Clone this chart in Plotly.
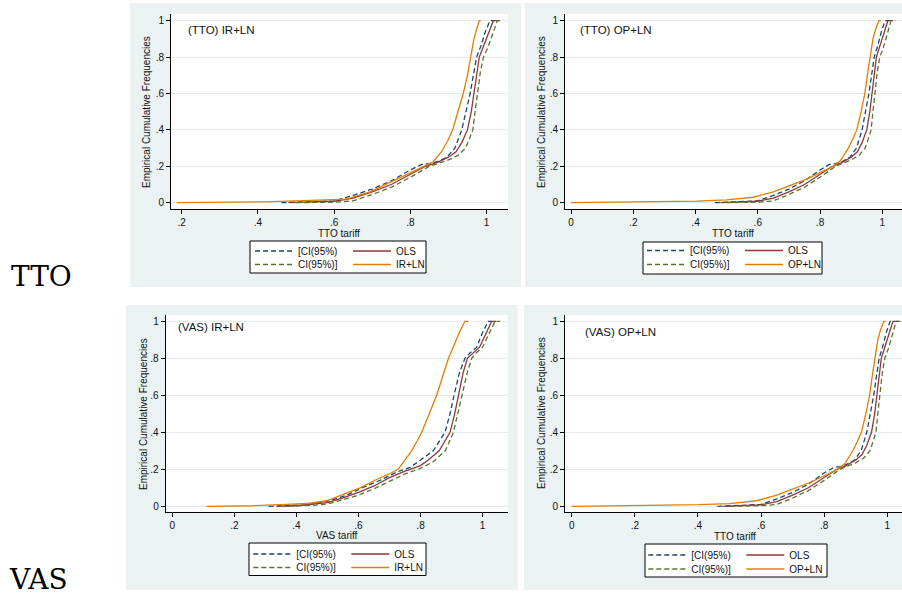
import plotly.graph_objects as go

W, H = 902, 596

# ---------------- data ----------------
# TTO tariff – lower CI, OLS, upper CI (shared by TTO panels)
tto_lo_x = [0.462, 0.55, 0.60, 0.65, 0.70, 0.75, 0.80, 0.83, 0.85, 0.87, 0.896, 0.917, 0.935, 0.957, 0.965, 0.974, 0.985, 0.997, 1.009, 1.02]
tto_lo_y = [0, 0.004, 0.01, 0.04, 0.075, 0.12, 0.18, 0.21, 0.215, 0.225, 0.25, 0.30, 0.40, 0.60, 0.70, 0.80, 0.86, 0.94, 1.0, 1.0]
tto_ols_x = [0.48, 0.55, 0.60, 0.65, 0.70, 0.75, 0.80, 0.84, 0.87, 0.90, 0.92, 0.935, 0.950, 0.960, 0.967, 0.975, 0.981, 0.992, 1.005, 1.018, 1.035]
tto_ols_y = [0, 0.003, 0.008, 0.025, 0.06, 0.10, 0.155, 0.20, 0.22, 0.25, 0.28, 0.33, 0.40, 0.50, 0.60, 0.72, 0.80, 0.86, 0.93, 1.0, 1.0]
tto_hi_x = [0.50, 0.60, 0.65, 0.70, 0.75, 0.80, 0.85, 0.88, 0.90, 0.925, 0.945, 0.955, 0.964, 0.970, 0.976, 0.984, 0.992, 1.003, 1.015, 1.028, 1.042]
tto_hi_y = [0, 0.003, 0.01, 0.045, 0.085, 0.14, 0.20, 0.22, 0.235, 0.26, 0.30, 0.35, 0.40, 0.50, 0.60, 0.72, 0.80, 0.85, 0.92, 1.0, 1.0]
# TTO IR+LN
tto_irln_x = [0.187, 0.30, 0.414, 0.50, 0.589, 0.633, 0.694, 0.746, 0.799, 0.834, 0.86, 0.882, 0.898, 0.911, 0.925, 0.939, 0.950, 0.959, 0.967, 0.975, 0.981, 0.985]
tto_irln_y = [0, 0.002, 0.005, 0.01, 0.015, 0.02, 0.06, 0.11, 0.165, 0.198, 0.225, 0.28, 0.34, 0.40, 0.50, 0.60, 0.70, 0.80, 0.90, 0.96, 1.0, 1.0]
# TTO OP+LN
tto_opln_x = [0.0, 0.1, 0.2, 0.3, 0.404, 0.5, 0.586, 0.65, 0.703, 0.757, 0.80, 0.843, 0.865, 0.891, 0.905, 0.918, 0.932, 0.944, 0.952, 0.960, 0.970, 0.978, 0.989, 0.995]
tto_opln_y = [0, 0.002, 0.004, 0.006, 0.009, 0.015, 0.03, 0.06, 0.095, 0.13, 0.165, 0.20, 0.23, 0.30, 0.35, 0.40, 0.50, 0.60, 0.70, 0.80, 0.90, 0.95, 1.0, 1.0]

# VAS tariff – lower CI, OLS, upper CI
vas_lo_x = [0.311, 0.368, 0.433, 0.497, 0.562, 0.605, 0.669, 0.723, 0.766, 0.80, 0.841, 0.879, 0.895, 0.908, 0.925, 0.943, 0.96, 0.981, 1.0, 1.018, 1.03]
vas_lo_y = [0, 0.003, 0.008, 0.025, 0.06, 0.095, 0.14, 0.185, 0.21, 0.25, 0.30, 0.40, 0.50, 0.60, 0.72, 0.80, 0.83, 0.86, 0.94, 1.0, 1.0]
vas_ols_x = [0.336, 0.40, 0.50, 0.55, 0.60, 0.65, 0.70, 0.75, 0.80, 0.825, 0.86, 0.895, 0.91, 0.922, 0.937, 0.951, 0.97, 0.99, 1.01, 1.029, 1.045]
vas_ols_y = [0, 0.003, 0.02, 0.045, 0.075, 0.11, 0.155, 0.19, 0.22, 0.25, 0.30, 0.40, 0.50, 0.60, 0.72, 0.80, 0.83, 0.86, 0.93, 1.0, 1.0]
vas_hi_x = [0.35, 0.45, 0.50, 0.55, 0.60, 0.65, 0.70, 0.75, 0.80, 0.84, 0.88, 0.906, 0.92, 0.933, 0.95, 0.965, 0.98, 1.0, 1.02, 1.04, 1.056]
vas_hi_y = [0, 0.005, 0.012, 0.035, 0.06, 0.095, 0.135, 0.175, 0.205, 0.24, 0.30, 0.40, 0.50, 0.60, 0.72, 0.80, 0.83, 0.86, 0.93, 1.0, 1.0]
# VAS IR+LN
vas_irln_x = [0.11, 0.261, 0.368, 0.433, 0.497, 0.562, 0.605, 0.658, 0.68, 0.705, 0.728, 0.750, 0.771, 0.788, 0.804, 0.828, 0.852, 0.871, 0.890, 0.908, 0.925, 0.943, 0.954]
vas_irln_y = [0, 0.003, 0.01, 0.015, 0.03, 0.07, 0.10, 0.145, 0.16, 0.18, 0.20, 0.25, 0.30, 0.35, 0.40, 0.50, 0.60, 0.70, 0.80, 0.87, 0.94, 1.0, 1.0]

series_names = ["[CI(95%)", "OLS", "CI(95%)]"]
panel_titles = ["(TTO) IR+LN", "(TTO) OP+LN", "(VAS) IR+LN", "(VAS) OP+LN"]
model_names = ["IR+LN", "OP+LN", "IR+LN", "OP+LN"]
x_titles = ["TTO tariff", "TTO tariff", "VAS tariff", "TTO tariff"]
y_title = "Empirical Cumulative Frequencies"
row_labels = ["TTO", "VAS"]

x_ticks_a = [0.2, 0.4, 0.6, 0.8, 1.0]
x_ticktext_a = [".2", ".4", ".6", ".8", "1"]
x_ticks_b = [0, 0.2, 0.4, 0.6, 0.8, 1.0]
x_ticktext_b = ["0", ".2", ".4", ".6", ".8", "1"]
y_ticks = [0, 0.2, 0.4, 0.6, 0.8, 1.0]
y_ticktext = ["0", ".2", ".4", ".6", ".8", "1"]

panels = [
    dict(lo=(tto_lo_x, tto_lo_y), ols=(tto_ols_x, tto_ols_y), hi=(tto_hi_x, tto_hi_y), m=(tto_irln_x, tto_irln_y)),
    dict(lo=(tto_lo_x, tto_lo_y), ols=(tto_ols_x, tto_ols_y), hi=(tto_hi_x, tto_hi_y), m=(tto_opln_x, tto_opln_y)),
    dict(lo=(vas_lo_x, vas_lo_y), ols=(vas_ols_x, vas_ols_y), hi=(vas_hi_x, vas_hi_y), m=(vas_irln_x, vas_irln_y)),
    dict(lo=(tto_lo_x, tto_lo_y), ols=(tto_ols_x, tto_ols_y), hi=(tto_hi_x, tto_hi_y), m=(tto_opln_x, tto_opln_y)),
]

# ---------------- layout geometry (pixels) ----------------
def fx(p):
    return p / W

def fy(p):
    return 1 - p / H

BG = "#EAF2F3"
GRID = "#E3EBED"
C_BLUE, C_RED, C_GREEN, C_ORANGE = "#1A476F", "#90353B", "#55752F", "#E37E00"
FONT = "Liberation Sans, Arial, sans-serif"

geo = [
    dict(px=(171, 508), py=(14, 209), xr=[0.1719, 1.0564], yr=[-0.0346, 1.0368], bg=(130, 521, 3, 287),
         title=(186, 30), ytit=(147, 112), xtit=(339, 233), leg=(250, 426, 241, 273), rows=(251, 264.5), keys=(255, 352.3)),
    dict(px=(565, 902), py=(14, 209), xr=[-0.0193, 1.0633], yr=[-0.0346, 1.0368], bg=(525, 902, 3, 287),
         title=(578, 30), ytit=(542, 112), xtit=(733, 233), leg=(643, 822, 242, 274), rows=(250.5, 264.5), keys=(647, 743)),
    dict(px=(165.7, 507.7), py=(315, 511.7), xr=[-0.0213, 1.0809], yr=[-0.0292, 1.0341], bg=(126, 518, 305, 590),
         title=(176, 327), ytit=(143, 414), xtit=(337, 535.5), leg=(249, 426, 543, 575.5), rows=(554, 567.5), keys=(253.3, 350)),
    dict(px=(565, 902), py=(315, 512), xr=[-0.0212, 1.0466], yr=[-0.0308, 1.034], bg=(524, 902, 305, 590),
         title=(583, 332), ytit=(541, 413), xtit=(735, 536.5), leg=(645, 827, 544, 577), rows=(555, 569), keys=(648.3, 745.7)),
]

fig = go.Figure()
shapes, annotations = [], []
layout = {}

for i, (p, g) in enumerate(zip(panels, geo)):
    n = "" if i == 0 else str(i + 1)
    xa, ya = "x" + n, "y" + n
    leg_a = "legend" if i == 0 else f"legend{2 * i + 1}"
    leg_b = f"legend{2 * i + 2}"
    traces = [
        (p["lo"], series_names[0], C_BLUE, "5px,3px", leg_a, 1),
        (p["ols"], series_names[1], C_RED, "solid", leg_a, 2),
        (p["hi"], series_names[2], C_GREEN, "5px,3px", leg_b, 3),
        (p["m"], model_names[i], C_ORANGE, "solid", leg_b, 4),
    ]
    for (xy, name, col, dash, leg, rank) in traces:
        fig.add_trace(go.Scatter(x=xy[0], y=xy[1], mode="lines", name=name, xaxis=xa, yaxis=ya,
                                 line=dict(color=col, width=1.3, dash=dash), legend=leg, legendrank=rank,
                                 hoverinfo="skip"))
    l, r = g["px"]
    t, b = g["py"]
    xt, xtt = (x_ticks_a, x_ticktext_a) if i == 0 else (x_ticks_b, x_ticktext_b)
    layout["xaxis" + n] = dict(domain=[fx(l), fx(r)], range=g["xr"], anchor=ya, showgrid=False, zeroline=False,
                               showline=True, linecolor="#000", linewidth=1, ticks="outside", ticklen=4,
                               tickcolor="#000", tickvals=xt, ticktext=xtt,
                               tickfont=dict(family=FONT, size=10, color="#111"), fixedrange=True)
    layout["yaxis" + n] = dict(domain=[fy(b), fy(t)], range=g["yr"], anchor=xa, showgrid=True, gridcolor=GRID,
                               gridwidth=1, zeroline=False, showline=True, linecolor="#000", linewidth=1,
                               ticks="outside", ticklen=4, tickcolor="#000", tickvals=y_ticks, ticktext=y_ticktext,
                               tickfont=dict(family=FONT, size=10, color="#111"), fixedrange=True)
    bl, br, bt, bb = g["bg"]
    shapes.append(dict(type="rect", xref="paper", yref="paper", x0=fx(bl), x1=fx(br), y0=fy(bb), y1=fy(bt),
                       fillcolor=BG, line=dict(width=0), layer="below"))
    shapes.append(dict(type="rect", xref="paper", yref="paper", x0=fx(l), x1=fx(r), y0=fy(b), y1=fy(t),
                       fillcolor="white", line=dict(width=0), layer="below"))
    ll, lr, lt, lb = g["leg"]
    shapes.append(dict(type="rect", xref="paper", yref="paper", x0=fx(ll), x1=fx(lr), y0=fy(lb), y1=fy(lt),
                       fillcolor="white", line=dict(width=1, color="#000"), layer="below"))
    for leg, yrow in ((leg_a, g["rows"][0]), (leg_b, g["rows"][1])):
        layout[leg] = dict(orientation="h", x=fx(g["keys"][0] - 5), xanchor="left", y=fy(yrow), yanchor="middle",
                           bgcolor="rgba(0,0,0,0)", borderwidth=0, entrywidth=45, entrywidthmode="pixels",
                           itemwidth=38,
                           font=dict(family=FONT, size=10, color="#111"), tracegroupgap=0, itemclick=False,
                           itemdoubleclick=False)
    annotations.append(dict(text=panel_titles[i], xref="paper", yref="paper", x=fx(g["title"][0]), y=fy(g["title"][1]),
                            xanchor="left", yanchor="middle", showarrow=False,
                            font=dict(family=FONT, size=11.5, color="#111")))
    annotations.append(dict(text=y_title, xref="paper", yref="paper", x=fx(g["ytit"][0]), y=fy(g["ytit"][1]),
                            xanchor="center", yanchor="middle", textangle=-90, showarrow=False,
                            font=dict(family=FONT, size=10, color="#111")))
    annotations.append(dict(text=x_titles[i], xref="paper", yref="paper", x=fx(g["xtit"][0]), y=fy(g["xtit"][1]),
                            xanchor="center", yanchor="middle", showarrow=False,
                            font=dict(family=FONT, size=10, color="#111")))

annotations.append(dict(text=row_labels[0], xref="paper", yref="paper", x=fx(41), y=fy(276), xanchor="center",
                        yanchor="middle", showarrow=False, font=dict(family="DejaVu Serif, serif", size=28, color="#000")))
annotations.append(dict(text=row_labels[1], xref="paper", yref="paper", x=fx(38), y=fy(579), xanchor="center",
                        yanchor="middle", showarrow=False, font=dict(family="DejaVu Serif, serif", size=28, color="#000")))

fig.update_layout(width=W, height=H, margin=dict(l=0, r=0, t=0, b=0), paper_bgcolor="white",
                  plot_bgcolor="rgba(0,0,0,0)", shapes=shapes, annotations=annotations, showlegend=True,
                  **layout)

fig.write_html("out.html", config={"displayModeBar": False, "staticPlot": False},
               post_script="document.body.style.margin='0px';document.body.style.overflow='hidden';")
